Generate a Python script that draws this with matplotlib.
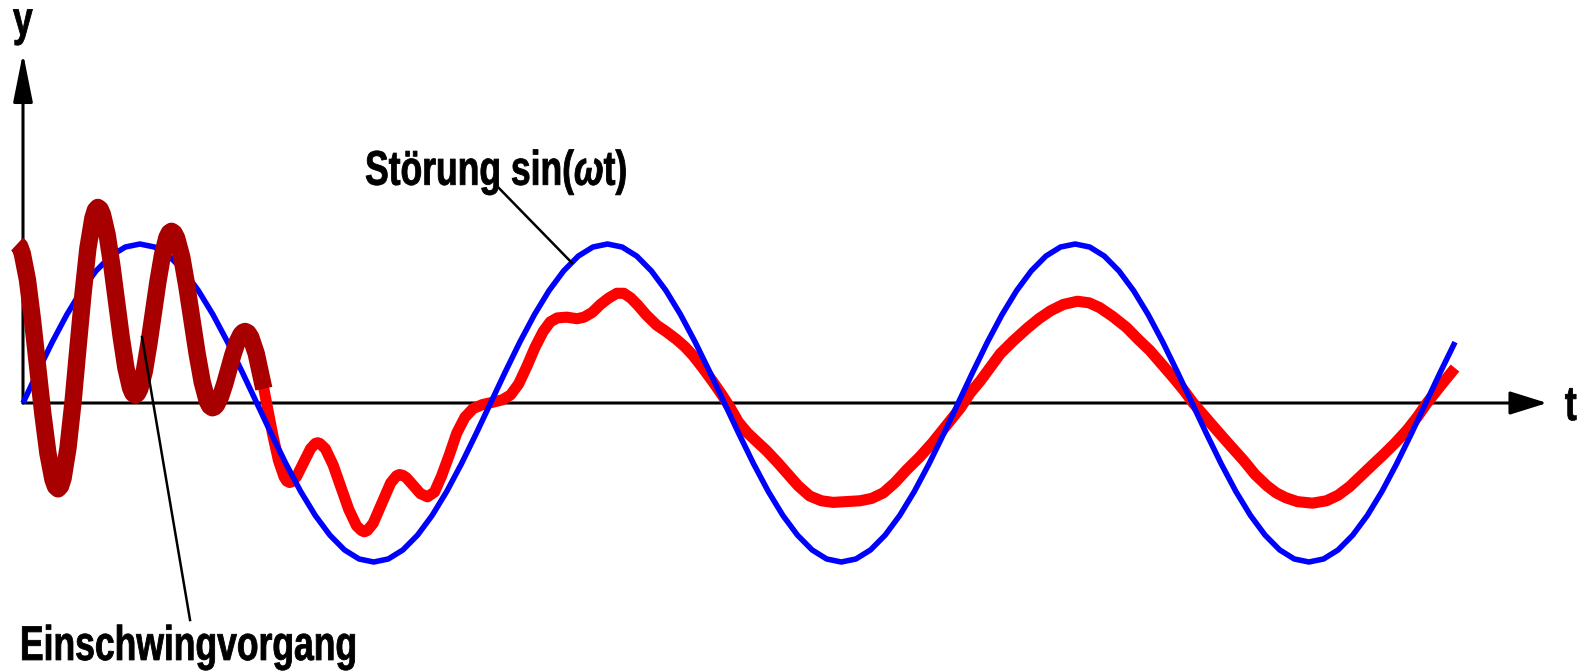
import matplotlib
matplotlib.use("Agg")
import matplotlib.pyplot as plt
import numpy as np
from matplotlib.patches import FancyArrowPatch
from matplotlib.patheffects import AbstractPathEffect
from matplotlib.transforms import Affine2D

# Time in quarter periods of the disturbance, amplitude in units of the disturbance.
# Disturbance sin(wt).
blue_t = np.arange(0, 12.26, 0.125)
blue_y = [
    0, .195, .383, .556, .707, .831, .924, .981, 1, .981, .924, .831, .707, .556, .383, .195,
    0, -.195, -.383, -.556, -.707, -.831, -.924, -.981, -1, -.981, -.924, -.831, -.707, -.556, -.383, -.195,
    0, .195, .383, .556, .707, .831, .924, .981, 1, .981, .924, .831, .707, .556, .383, .195,
    0, -.195, -.383, -.556, -.707, -.831, -.924, -.981, -1, -.981, -.924, -.831, -.707, -.556, -.383, -.195,
    0, .195, .383, .556, .707, .831, .924, .981, 1, .981, .924, .831, .707, .556, .383, .195,
    0, -.195, -.383, -.556, -.707, -.831, -.924, -.981, -1, -.981, -.924, -.831, -.707, -.556, -.383, -.195,
    0, .195, .383,
]

# Transient (Einschwingvorgang), dark red part
trans_t = [-0.05, -0.028, -0.006, 0.038, 0.081, 0.125, 0.169, 0.213, 0.256, 0.278,
           0.30, 0.321, 0.343, 0.385, 0.428, 0.47, 0.513, 0.555, 0.598, 0.619,
           0.64, 0.66, 0.68, 0.72, 0.76, 0.80, 0.84, 0.88, 0.92, 0.94,
           0.96, 0.979, 0.999, 1.038, 1.076, 1.115, 1.154, 1.193, 1.231, 1.251,
           1.27, 1.292, 1.314, 1.358, 1.401, 1.445, 1.489, 1.533, 1.576, 1.598,
           1.62, 1.638, 1.655, 1.69, 1.725, 1.76, 1.795, 1.83, 1.865, 1.883,
           1.90, 1.924, 1.948, 1.995, 2.06]
trans_y = [1.00, 0.985, 0.94, 0.775, 0.524, 0.23, -0.064, -0.315, -0.481, -0.525,
           -0.54, -0.523, -0.473, -0.282, 0.007, 0.345, 0.683, 0.972, 1.163, 1.213,
           1.23, 1.219, 1.185, 1.058, 0.865, 0.64, 0.415, 0.222, 0.095, 0.061,
           0.05, 0.06, 0.089, 0.20, 0.368, 0.565, 0.762, 0.93, 1.041, 1.07,
           1.08, 1.069, 1.038, 0.918, 0.737, 0.525, 0.313, 0.132, 0.012, -0.019,
           -0.03, -0.025, -0.012, 0.04, 0.118, 0.21, 0.302, 0.38, 0.432, 0.445,
           0.45, 0.441, 0.414, 0.311, 0.09]

# System response, red part
resp_t = [1.995, 2.043, 2.09, 2.138, 2.185, 2.233, 2.256, 2.28, 2.30, 2.34, 2.40, 2.46, 2.50, 2.52,
          2.54, 2.587, 2.653, 2.72, 2.787, 2.853, 2.895, 2.92, 2.945, 2.995, 3.07, 3.145, 3.195, 3.22,
          3.25, 3.28, 3.34, 3.40, 3.46, 3.52, 3.58, 3.65, 3.71, 3.78, 3.85, 3.93,
          4.02, 4.10, 4.17, 4.24, 4.31, 4.38, 4.45, 4.51, 4.57, 4.65, 4.74,
          4.80, 4.87, 4.94, 5.01, 5.08, 5.14, 5.20, 5.26, 5.33, 5.42, 5.50,
          5.59, 5.66, 5.73, 5.81, 5.90, 5.98, 6.05, 6.12, 6.20, 6.28, 6.36,
          6.45, 6.54, 6.63, 6.73, 6.83, 6.93, 7.04, 7.16, 7.26, 7.36, 7.46,
          7.56, 7.67, 7.78, 7.90, 8.02, 8.10, 8.19, 8.27, 8.36, 8.47, 8.59,
          8.69, 8.79, 8.90, 9.02, 9.12, 9.21, 9.32, 9.44, 9.54, 9.64, 9.74,
          9.84, 9.93, 10.01, 10.11, 10.21, 10.33, 10.44, 10.54, 10.64, 10.72,
          10.80, 10.90, 11.03, 11.15, 11.25, 11.35, 11.45, 11.55, 11.63, 11.74,
          11.84, 11.93, 12.01, 12.08, 12.15, 12.25]
resp_y = [0.311, 0.156, -0.025, -0.206, -0.361, -0.464, -0.491, -0.50, -0.495, -0.463, -0.375, -0.287, -0.255, -0.25,
          -0.255, -0.288, -0.39, -0.53, -0.67, -0.772, -0.802, -0.81, -0.802, -0.757, -0.63, -0.503, -0.458, -0.45,
          -0.455, -0.47, -0.52, -0.57, -0.59, -0.56, -0.46, -0.32, -0.19, -0.09, -0.035, -0.01,
          0.005, 0.02, 0.05, 0.12, 0.23, 0.35, 0.45, 0.51, 0.535, 0.54, 0.53,
          0.54, 0.57, 0.62, 0.66, 0.69, 0.69, 0.66, 0.615, 0.555, 0.49, 0.45,
          0.40, 0.355, 0.30, 0.225, 0.135, 0.05, -0.03, -0.12, -0.19, -0.245, -0.30,
          -0.37, -0.445, -0.52, -0.585, -0.615, -0.625, -0.62, -0.615, -0.60, -0.565, -0.50,
          -0.42, -0.34, -0.25, -0.14, -0.03, 0.06, 0.14, 0.22, 0.31, 0.39, 0.47,
          0.53, 0.58, 0.62, 0.64, 0.63, 0.60, 0.545, 0.475, 0.40, 0.33, 0.245,
          0.16, 0.08, 0.0, -0.085, -0.17, -0.27, -0.36, -0.45, -0.52, -0.565,
          -0.595, -0.62, -0.63, -0.615, -0.58, -0.525, -0.455, -0.385, -0.33, -0.25,
          -0.17, -0.085, 0.0, 0.065, 0.13, 0.22]


class Squeeze(AbstractPathEffect):
    # the lettering in the picture is condensed and heavy:
    # squeeze glyphs horizontally and give them a thin outline
    def __init__(self, sx, lw):
        super().__init__()
        self.sx = sx
        self.lw = lw

    def draw_path(self, renderer, gc, tpath, affine, rgbFace=None):
        gc0 = renderer.new_gc()
        gc0.copy_properties(gc)
        gc0.set_linewidth(self.lw)
        gc0.set_foreground(rgbFace)
        gc0.set_joinstyle('round')
        renderer.draw_path(gc0, tpath, Affine2D().scale(self.sx, 1) + affine, rgbFace)
        gc0.restore()


plt.rcParams['font.family'] = ['Liberation Sans', 'DejaVu Sans']
plt.rcParams['font.weight'] = 'bold'
plt.rcParams['mathtext.fontset'] = 'custom'
plt.rcParams['mathtext.it'] = 'Liberation Sans:italic:bold'

fig = plt.figure(figsize=(15.8, 6.72), dpi=100)
ax = fig.add_axes([0, 0, 1, 1])
ax.set_xlim(-0.1967, 13.319)
ax.set_ylim(-1.6918, 2.5346)
ax.axis('off')

# axes with arrows
ax.add_patch(FancyArrowPatch((0, 0), (13.037, 0), arrowstyle='-|>,head_length=23,head_width=7.2',
                             mutation_scale=1, lw=2.2, color='black', shrinkA=0, shrinkB=0, zorder=1))
ax.add_patch(FancyArrowPatch((0, 0), (0, 2.201), arrowstyle='-|>,head_length=30,head_width=6',
                             mutation_scale=1, lw=2.2, color='black', shrinkA=0, shrinkB=0, zorder=1))

ax.plot(resp_t, resp_y, color='#ff0000', lw=8, solid_capstyle='butt', solid_joinstyle='round', zorder=2)
ax.plot(blue_t, blue_y, color='#0000ff', lw=4, solid_capstyle='butt', solid_joinstyle='round', zorder=3)
ax.plot(trans_t, trans_y, color='#a80000', lw=12.5, solid_capstyle='butt', solid_joinstyle='round', zorder=4)

# leader lines
ax.plot([4.063, 4.696], [1.358, 0.881], color='black', lw=1.8, zorder=5)
ax.plot([1.018, 1.429], [0.415, -1.365], color='black', lw=1.8, zorder=5)

fs = 35
sq = [Squeeze(0.73, 0.6)]
ax.text(-0.086, 2.314, 'y', fontsize=fs, va='baseline', ha='left', path_effects=sq)
ax.text(13.19, -0.107, 't', fontsize=fs, va='baseline', ha='left', path_effects=sq)
ax.text(2.926, 1.371, 'Störung sin($\\omega$t)', fontsize=fs, va='baseline', ha='left', path_effects=sq)
ax.text(-0.026, -1.616, 'Einschwingvorgang', fontsize=fs, va='baseline', ha='left', path_effects=sq)

fig.savefig('out.png', dpi=100)
